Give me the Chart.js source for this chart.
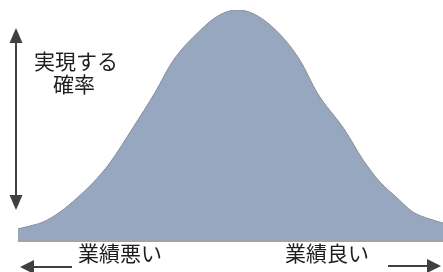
<!DOCTYPE html>
<html lang="ja">
<head>
<meta charset="UTF-8">
<title>業績の分布</title>
<script src="https://cdn.jsdelivr.net/npm/chart.js"></script>
<style>
  html, body { margin: 0; padding: 0; background: #fff; }
  #wrap { position: relative; width: 443px; height: 272px; overflow: hidden; }
  #wrap canvas { position: absolute; left: 0; top: 0; }
  .lbl {
    position: absolute;
    font-family: "Noto Sans CJK JP", sans-serif;
    font-size: 21px;
    line-height: 23px;
    color: #1e1e1e;
    white-space: nowrap;
  }
</style>
</head>
<body>
<div id="wrap">
  <canvas id="curve" width="443" height="272"></canvas>
  <div class="lbl" style="left:34px; top:49px; width:80px; text-align:center;">実現する<br>確率</div>
  <div class="lbl" style="left:78px; top:241px;">業績悪い</div>
  <div class="lbl" style="left:285px; top:241px;">業績良い</div>
</div>

<script>
  // 業績 (0 = 悪い, 100 = 良い) と実現する確率 (ピーク = 100)
  const performance = [0, 2.8, 5.9, 9.9, 13.9, 17.6, 21.6, 27.1, 32.2, 36.5, 42.8, 47.1,
                       51.5, 55.8, 61.6, 66.4, 70.4, 76.9, 81.2, 85.2, 89.2, 92.9, 96.9, 100];
  const probability = [4.8, 6.1, 7.8, 12.2, 18.3, 24.8, 33.5, 49, 64, 78, 91, 97.5,
                       100, 98, 89.5, 78, 64, 47.8, 34.8, 25.2, 18.3, 12.2, 9.1, 7.4];

  const points = performance.map((x, i) => ({ x, y: probability[i] }));

  // 矢印と下の線
  const arrows = {
    id: 'arrows',
    afterDraw(chart) {
      const ctx = chart.ctx;
      const area = chart.chartArea;
      ctx.save();

      // baseline
      ctx.strokeStyle = '#a3a3a3';
      ctx.lineWidth = 2;
      ctx.beginPath();
      ctx.moveTo(area.left, area.bottom + 1);
      ctx.lineTo(area.right, area.bottom + 1);
      ctx.stroke();

      ctx.strokeStyle = '#404040';
      ctx.fillStyle = '#404040';
      ctx.lineWidth = 2;

      const line = (x1, y1, x2, y2) => {
        ctx.beginPath();
        ctx.moveTo(x1, y1);
        ctx.lineTo(x2, y2);
        ctx.stroke();
      };
      const head = (pts) => {
        ctx.beginPath();
        ctx.moveTo(pts[0][0], pts[0][1]);
        ctx.lineTo(pts[1][0], pts[1][1]);
        ctx.lineTo(pts[2][0], pts[2][1]);
        ctx.closePath();
        ctx.fill();
      };

      // vertical double arrow
      line(16, 40, 16, 198);
      head([[16, 28], [9.5, 43], [22.5, 43]]);
      head([[16, 210], [9.5, 195], [22.5, 195]]);

      // left arrow
      line(32, 267, 72, 267);
      head([[20, 267], [34, 260], [34, 274]]);

      // right arrow
      line(388, 266, 429, 266);
      head([[441, 266], [427, 259], [427, 273]]);

      ctx.restore();
    }
  };

  new Chart(document.getElementById('curve'), {
    type: 'line',
    data: {
      datasets: [{
        data: points,
        fill: 'origin',
        backgroundColor: '#96a7bf',
        borderColor: '#8e8e8e',
        borderWidth: 1,
        pointRadius: 0,
        cubicInterpolationMode: 'monotone'
      }]
    },
    options: {
      responsive: false,
      animation: false,
      layout: { padding: { left: 18, right: 0, top: 10, bottom: 32 } },
      plugins: { legend: { display: false }, tooltip: { enabled: false } },
      scales: {
        x: { type: 'linear', min: 0, max: 100, display: false },
        y: { min: 0, max: 100, display: false }
      }
    },
    plugins: [arrows]
  });
</script>
</body>
</html>
